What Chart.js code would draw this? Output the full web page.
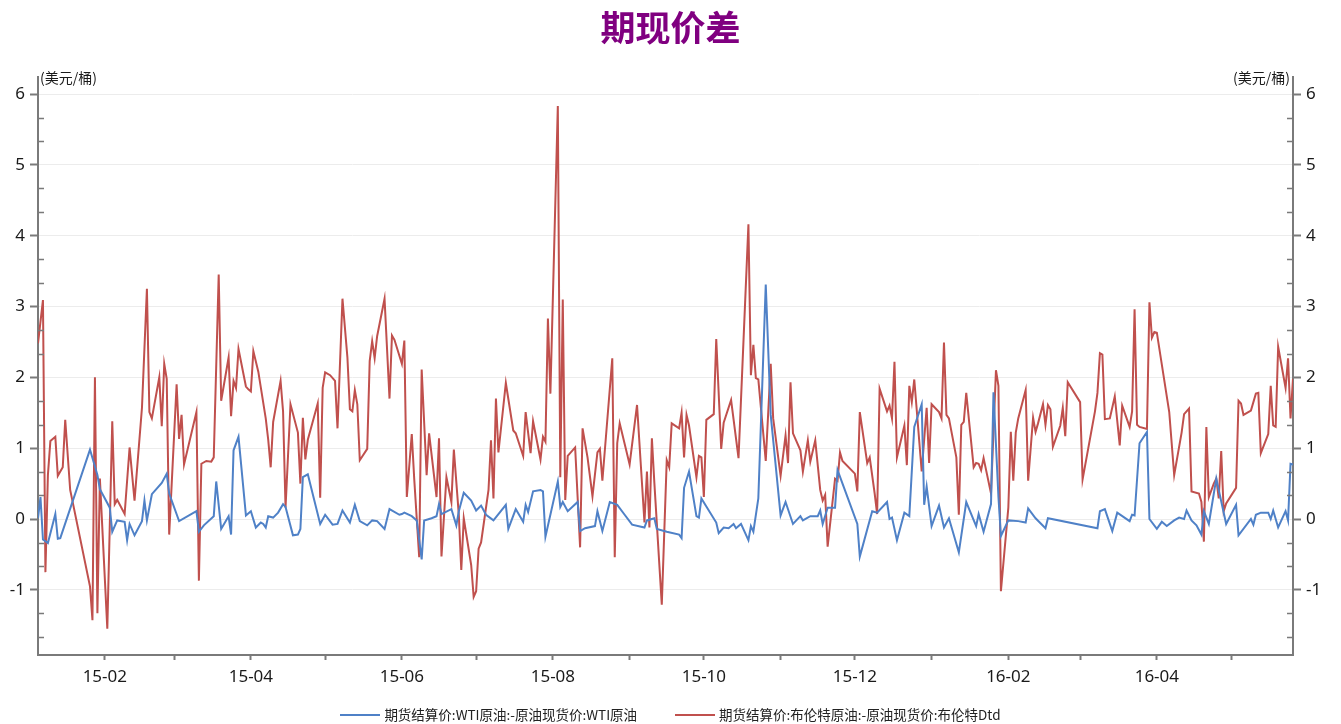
<!DOCTYPE html>
<html>
<head>
<meta charset="utf-8">
<script src="https://cdn.jsdelivr.net/npm/chart.js@4.4.1/dist/chart.umd.min.js"></script>
<style>
html,body{margin:0;padding:0;background:#fff;}
#wrap{position:relative;width:1341px;height:724px;overflow:hidden;}
#legend{position:absolute;left:0;top:705px;width:1341px;text-align:center;font-family:"Noto Sans CJK SC","Noto Sans",sans-serif;font-size:13.5px;line-height:18px;color:#222;white-space:nowrap;}
#legend .item{display:inline-block;margin:0 19px;}
#legend .sw{display:inline-block;width:40px;height:2px;vertical-align:middle;margin-right:4px;position:relative;top:-1px;}
</style>
</head>
<body>
<div id="wrap">
<canvas id="c" width="1341" height="724"></canvas>
<div id="legend"></div>
</div>
<script>
// ---- data (x = days since 2015-01-01, y = USD/bbl) ----
const chartTitle = '期现价差';
const unitLabel = '(美元/桶)';
const seriesNames = ['期货结算价:WTI原油:-原油现货价:WTI原油', '期货结算价:布伦特原油:-原油现货价:布伦特Dtd'];

const wtiDay = [4,5,6,8,11,12,13,25,28,29,33,34,36,39,40,41,43,46,47,48,50,54,56,57,61,68,69,71,75,76,78,81,82,83,85,88,90,92,94,95,96,97,99,101,103,104,107,109,110,111,113,118,120,123,125,127,130,132,134,137,139,141,144,146,150,151,152,155,157,159,160,163,165,166,167,171,173,174,176,179,181,183,185,188,193,194,197,200,201,202,204,207,208,209,214,215,216,218,222,223,225,229,230,232,235,238,241,244,249,250,253,254,258,263,264,265,267,270,271,272,278,279,281,283,285,286,288,291,292,293,295,298,300,304,306,309,312,313,316,319,320,321,323,326,327,335,336,341,343,347,348,349,351,354,356,358,361,362,363,365,368,370,372,376,379,383,384,386,389,390,392,393,396,400,403,404,407,411,412,432,433,435,438,440,445,446,447,449,452,453,456,458,460,463,465,467,468,470,472,474,475,477,480,484,488,489,494,495,496,498,501,502,503,505,508,509,510,511];
const wtiValue = [0.01,0.31,-0.29,-0.34,0.07,-0.28,-0.27,0.98,0.62,0.42,0.16,-0.18,-0.02,-0.04,-0.30,-0.07,-0.23,-0.03,0.26,-0.02,0.35,0.51,0.64,0.36,-0.03,0.11,-0.18,-0.09,0.04,0.53,-0.14,0.04,-0.22,0.97,1.16,0.05,0.11,-0.12,-0.05,-0.07,-0.12,0.04,0.02,0.09,0.21,0.17,-0.23,-0.22,-0.14,0.59,0.63,-0.07,0.06,-0.08,-0.07,0.12,-0.05,0.20,-0.03,-0.09,-0.02,-0.03,-0.14,0.14,0.06,0.07,0.09,0.04,-0.02,-0.57,-0.02,0.01,0.04,0.21,0.07,0.14,-0.09,0.11,0.37,0.26,0.12,0.19,0.06,-0.02,0.20,-0.14,0.14,-0.04,0.20,0.10,0.39,0.41,0.39,-0.25,0.53,0.17,0.24,0.11,0.24,-0.17,-0.13,-0.10,0.11,-0.17,0.24,0.20,0.06,-0.08,-0.12,-0.02,0.01,-0.14,-0.18,-0.22,-0.27,0.44,0.67,0.04,0.02,0.29,-0.05,-0.20,-0.12,-0.13,-0.07,-0.13,-0.07,-0.30,-0.10,-0.18,0.29,3.31,1.47,0.05,0.24,-0.07,0.04,-0.02,0.04,0.04,0.12,-0.07,0.16,0.16,0.69,-0.07,-0.53,0.11,0.09,0.24,0.00,0.02,-0.30,0.09,0.04,1.30,1.62,0.20,0.46,-0.10,0.19,-0.12,0.01,-0.47,0.24,-0.10,0.07,-0.18,0.21,1.79,0.31,-0.24,-0.02,-0.03,-0.05,0.15,0.01,-0.13,0.01,-0.13,0.11,0.14,-0.17,0.09,-0.03,0.06,0.05,1.07,1.23,0.00,-0.14,-0.04,-0.10,-0.02,0.02,0.00,0.12,-0.02,-0.09,-0.22,0.11,-0.07,0.57,-0.07,0.20,-0.23,0.00,-0.08,0.06,0.09,0.09,0.00,0.12,-0.12,0.11,-0.02,0.78,0.77];

const brentDay = [4,6,7,8,9,11,12,14,15,17,25,26,27,28,29,32,34,35,36,39,41,43,46,48,49,50,53,54,55,56,57,60,61,62,63,68,69,70,72,74,75,77,78,81,82,83,84,85,88,89,90,91,93,96,97,98,99,102,103,104,105,106,109,110,111,112,113,117,118,119,120,122,124,125,127,129,130,131,132,133,134,137,138,139,140,141,144,146,147,148,151,152,153,155,156,158,159,161,162,165,166,167,169,171,172,174,175,176,179,180,181,182,183,186,187,188,189,190,193,196,197,200,201,203,204,207,208,209,210,211,214,215,216,217,218,221,223,224,226,228,230,231,232,236,237,238,239,243,246,249,250,251,252,253,256,258,259,260,263,264,265,266,267,270,271,272,273,274,277,278,280,281,284,287,291,292,293,294,295,298,300,301,304,306,307,308,309,312,313,315,316,318,320,321,322,323,326,327,328,329,334,335,336,339,340,342,343,344,347,348,349,350,351,354,355,356,357,358,361,363,364,365,368,369,370,371,372,375,376,377,378,379,382,383,384,385,386,389,391,392,393,396,397,398,399,400,403,404,406,407,408,410,411,412,413,414,417,418,419,420,425,426,431,432,433,434,435,437,439,441,442,445,446,447,448,449,452,453,454,455,456,461,463,466,467,469,470,473,474,475,476,477,479,480,481,482,483,484,488,489,490,491,494,496,497,498,501,502,503,504,505,508,509,510,511];
const brentValue = [2.48,3.09,-0.75,0.62,1.10,1.16,0.61,0.73,1.40,0.41,-0.95,-1.43,2.00,-1.33,0.57,-1.55,1.38,0.21,0.27,0.07,1.01,0.26,1.57,3.25,1.51,1.42,2.00,1.31,2.19,1.98,-0.22,1.90,1.13,1.47,0.77,1.51,-0.87,0.78,0.82,0.81,0.87,3.45,1.67,2.28,1.45,1.95,1.85,2.40,1.87,1.83,1.80,2.37,2.08,1.42,1.12,0.73,1.37,1.95,1.52,0.16,0.89,1.62,1.22,0.50,1.43,0.84,1.12,1.63,0.30,1.85,2.07,2.03,1.95,1.28,3.11,2.28,1.55,1.52,1.82,1.62,0.83,0.99,2.23,2.51,2.27,2.58,3.11,1.70,2.59,2.53,2.19,2.52,0.31,1.20,0.56,-0.54,2.11,0.62,1.21,0.31,1.14,-0.53,0.59,0.24,0.98,0.06,-0.72,0.01,-0.65,-1.10,-1.02,-0.42,-0.33,0.41,1.11,0.29,1.70,0.94,1.92,1.25,1.21,0.89,1.51,0.93,1.38,0.84,1.16,1.09,2.83,1.77,5.83,0.59,3.10,0.27,0.89,1.01,-0.40,1.28,0.87,0.32,0.94,0.99,0.54,2.27,-0.54,1.07,1.35,0.77,1.61,-0.05,0.67,-0.12,1.14,0.51,-1.21,0.83,0.73,1.35,1.28,1.50,0.87,1.47,1.32,0.59,0.89,0.87,0.31,1.40,1.48,2.54,0.99,1.36,1.68,0.86,4.16,2.03,2.46,1.99,1.97,0.82,2.19,1.42,0.61,1.18,0.79,1.93,1.21,0.97,0.67,1.11,0.81,1.11,0.41,0.26,0.34,-0.39,0.57,0.54,0.94,0.82,0.64,0.39,1.51,0.79,0.87,0.36,0.07,1.84,1.52,1.60,1.42,2.22,0.87,1.32,0.76,1.88,1.65,1.97,0.67,1.57,0.79,1.62,1.51,1.42,2.49,1.47,1.42,0.87,0.06,1.33,1.37,1.78,0.73,0.79,0.78,0.69,0.86,0.36,2.10,1.88,-1.02,0.16,1.23,0.54,1.22,1.42,1.82,0.54,1.43,1.23,1.35,1.62,1.33,1.61,1.55,1.02,1.32,1.57,1.17,1.93,1.65,0.56,1.52,1.78,2.34,2.32,1.41,1.42,1.73,1.04,1.60,1.30,1.52,2.96,1.33,1.30,1.27,3.06,2.56,2.64,2.63,1.51,0.62,1.22,1.48,1.56,0.39,0.36,0.24,-0.32,1.30,0.31,0.50,0.57,0.29,0.96,0.11,0.22,0.44,1.67,1.63,1.47,1.53,1.77,1.78,0.93,1.20,1.88,1.32,1.30,2.43,1.85,2.27,1.42,1.98];

const xTickDates = ['2015-02-01','2015-03-01','2015-04-01','2015-05-01','2015-06-01','2015-07-01','2015-08-01','2015-09-01','2015-10-01','2015-11-01','2015-12-01','2016-01-01','2016-02-01','2016-03-01','2016-04-01','2016-05-01'];
const xTickLabels = ['15-02','','15-04','','15-06','','15-08','','15-10','','15-12','','16-02','','16-04',''];
const yTickValues = [-1,0,1,2,3,4,5,6];
const xRange = [4, 511];
const yRange = [-1.92, 6.24];

// ---- helpers ----
const DAY0 = Date.UTC(2015,0,1);
function dayOf(s){ const p=s.split('-').map(Number); return Math.round((Date.UTC(p[0],p[1]-1,p[2])-DAY0)/86400000); }
const xTickDays = xTickDates.map(dayOf);
function pts(xs, ys){ return xs.map((x,i)=>({x:x, y:ys[i]})); }

const AXIS = '#7a7a7a';
const GRID = '#ececec';
const TXT = '#1a1a1a';
const BLUE = '#4f81c7';
const RED = '#c0504d';
const NUMFONT = {family:'"Noto Sans", "DejaVu Sans", sans-serif', size:17};

const extras = {
  id:'extras',
  afterDraw(chart){
    const ctx = chart.ctx, ca = chart.chartArea, ys = chart.scales.y;
    ctx.save();
    // minor ticks inside both vertical axes
    ctx.strokeStyle = AXIS; ctx.lineWidth = 1.5;
    const k0 = Math.ceil(ys.min*3), k1 = Math.floor(ys.max*3);
    for(let k=k0;k<=k1;k++){
      if(k%3===0) continue;
      const y = Math.round(ys.getPixelForValue(k/3))+0.5;
      ctx.beginPath();
      ctx.moveTo(ca.left, y); ctx.lineTo(ca.left+6, y);
      ctx.moveTo(ca.right, y); ctx.lineTo(ca.right-6, y);
      ctx.stroke();
    }
    // unit labels
    ctx.fillStyle = TXT;
    ctx.font = '14px "Noto Sans CJK SC", sans-serif';
    ctx.textBaseline = 'middle';
    ctx.textAlign = 'left';
    ctx.fillText(unitLabel, ca.left+2, ca.top+1);
    ctx.textAlign = 'right';
    ctx.fillText(unitLabel, ca.right-3, ca.top+1);
    ctx.restore();
  }
};

new Chart(document.getElementById('c'), {
  type:'line',
  data:{
    datasets:[
      {label:seriesNames[0], data:pts(wtiDay, wtiValue), borderColor:BLUE, backgroundColor:BLUE, borderWidth:2, pointRadius:0, tension:0, yAxisID:'y'},
      {label:seriesNames[1], data:pts(brentDay, brentValue), borderColor:RED, backgroundColor:RED, borderWidth:2, pointRadius:0, tension:0, yAxisID:'y'}
    ]
  },
  options:{
    responsive:false,
    devicePixelRatio:1,
    animation:false,
    events:[],
    layout:{padding:0},
    plugins:{
      legend:{display:false},
      tooltip:{enabled:false},
      title:{display:true, text:chartTitle, color:'#800080', font:{family:'"Noto Sans CJK SC", sans-serif', size:35, weight:'bold'}, padding:{top:7, bottom:28}}
    },
    scales:{
      x:{
        type:'linear', min:xRange[0], max:xRange[1],
        afterBuildTicks(s){ s.ticks = xTickDays.filter(d=>d>=xRange[0]&&d<=xRange[1]).map(d=>({value:d})); },
        afterFit(s){ s.height = 69; },
        ticks:{autoSkip:false, maxRotation:0, minRotation:0, padding:7, color:TXT, font:NUMFONT,
          callback(v){ const i = xTickDays.indexOf(v); return i>=0 ? xTickLabels[i] : ''; }},
        grid:{display:true, drawOnChartArea:false, drawTicks:true, tickLength:5, tickColor:AXIS, tickWidth:2},
        border:{display:true, color:AXIS, width:2}
      },
      y:{
        type:'linear', position:'left', min:yRange[0], max:yRange[1],
        afterBuildTicks(s){ s.ticks = yTickValues.map(v=>({value:v})); },
        afterFit(s){ s.width = 38; },
        ticks:{padding:5, color:TXT, font:NUMFONT, callback:v=>String(v)},
        grid:{display:true, drawOnChartArea:true, color:GRID, lineWidth:1, drawTicks:true, tickLength:8, tickColor:AXIS, tickWidth:2},
        border:{display:true, color:AXIS, width:2}
      },
      y2:{
        type:'linear', position:'right', min:yRange[0], max:yRange[1],
        afterBuildTicks(s){ s.ticks = yTickValues.map(v=>({value:v})); },
        afterFit(s){ s.width = 48; },
        ticks:{padding:5, color:TXT, font:NUMFONT, callback:v=>String(v)},
        grid:{display:true, drawOnChartArea:false, drawTicks:true, tickLength:8, tickColor:AXIS, tickWidth:2},
        border:{display:true, color:AXIS, width:2}
      }
    }
  },
  plugins:[extras]
});

// HTML legend built from the dataset names/colours
const lg = document.getElementById('legend');
[[seriesNames[0], BLUE],[seriesNames[1], RED]].forEach(([name,col])=>{
  const it = document.createElement('span'); it.className='item';
  const sw = document.createElement('span'); sw.className='sw'; sw.style.background=col;
  it.appendChild(sw); it.appendChild(document.createTextNode(name));
  lg.appendChild(it);
});
</script>
</body>
</html>
